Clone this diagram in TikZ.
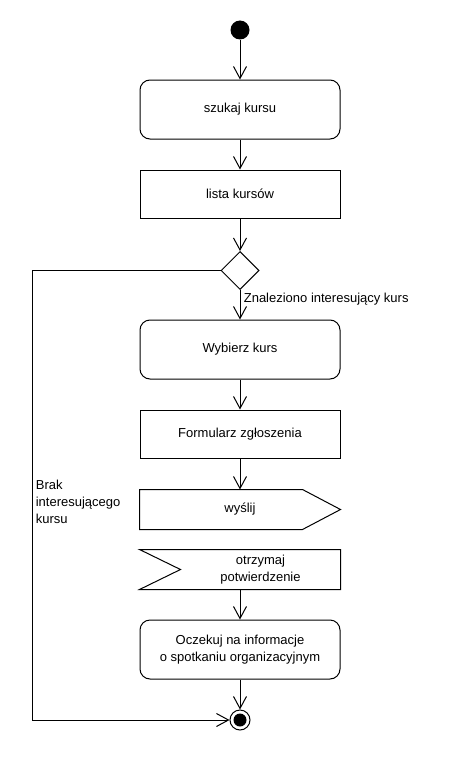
\documentclass[tikz,border=0pt]{standalone}
\usepackage{fontspec}
\setmainfont{Liberation Sans}
\usepackage{tikz}
\usetikzlibrary{shapes.geometric, positioning, arrows.meta, calc}

\begin{document}
\begin{tikzpicture}[x=1pt, y=-1pt, line width=1pt,
          txt/.style={font=\fontsize{13}{17}\selectfont, align=center},
          act/.style={txt, draw, rounded corners=10pt, minimum width=200pt,
                      minimum height=59pt},
          obj/.style={txt, draw, minimum width=200pt, minimum height=48pt},
          sig/.style={txt, minimum height=39pt, inner sep=0pt},
          flow/.style={-{Straight Barb[length=12pt, width=13pt]}}
        ]
        \useasboundingbox (0,0) rectangle (460,760);

        % Start
        \node[circle, fill=black, minimum size=19pt, inner sep=0pt]
              (start) at (240, 30) {};

        % Activities (rounded)
        \foreach \n/\y/\t in {
          szukaj/109.5/szukaj kursu, wybierz/349.5/Wybierz kurs,
          oczekuj/649.5/{Oczekuj na informacje\\o spotkaniu organizacyjnym}} {
          \node[act] (\n) at (240, \y) {\t};
        }

        % Objects (plain boxes)
        \foreach \n/\y/\t in {
          lista/194/lista kursów, formularz/434/Formularz zgłoszenia} {
          \node[obj] (\n) at (240, \y) {\t};
        }

        % Decision
        \node[diamond, draw, minimum width=38pt, minimum height=38pt,
              inner sep=0pt] (wybor) at (240, 270.5) {};

        % Send signal
        \node[sig, minimum width=200pt] (wyslij) at (240, 509.5) {wyślij};
        \draw (wyslij.north west) -- ($(wyslij.north east)+(-38,0)$)
              -- (wyslij.east) -- ($(wyslij.south east)+(-38,0)$)
              -- (wyslij.south west) -- cycle;

        % Accept signal
        \node[sig, minimum width=159pt] (otrzymaj) at (260.5, 569.5)
              {otrzymaj\\potwierdzenie};
        \draw ($(otrzymaj.north west)+(-41,0)$) -- (otrzymaj.north east)
              -- (otrzymaj.south east) -- ($(otrzymaj.south west)+(-41,0)$)
              -- (otrzymaj.west) -- cycle;

        % Final
        \node[circle, draw, minimum size=20pt, inner sep=0pt]
              (koniec) at (240, 720) {};
        \node[circle, fill=black, minimum size=13pt, inner sep=0pt]
              (koniecin) at (koniec) {};

        % Flows
        \draw[flow] (start) -- (szukaj);
        \draw[flow] (szukaj) -- (lista);
        \draw[flow] (lista) -- (wybor);
        \draw[flow] (wybor) -- node[txt, right, pos=0.3]
              {Znaleziono interesujący kurs} (wybierz);
        \draw[flow] (wybierz) -- (formularz);
        \draw[flow] (formularz) -- (wyslij);
        \draw[flow] (otrzymaj.south -| oczekuj.north) -- (oczekuj);
        \draw[flow] (oczekuj) -- (koniec);

        % No course found
        \coordinate (zakret) at (32, 270.5);
        \draw[flow] (wybor) -- (zakret) |- (koniec);
        \node[txt, align=left, anchor=west] (brak) at (32, 502)
              {Brak\\interesującego\\kursu};
      \end{tikzpicture}
\end{document}
